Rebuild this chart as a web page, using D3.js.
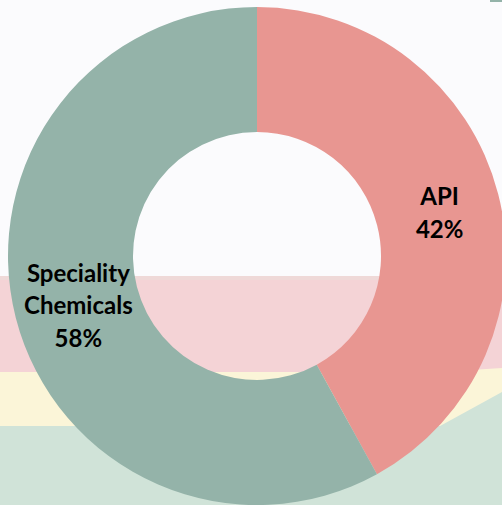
<!DOCTYPE html>
<html>
<head>
<meta charset="utf-8">
<script src="https://cdn.jsdelivr.net/npm/d3@7"></script>
<style>
  html, body { margin: 0; padding: 0; background: #fbfbfd; }
  svg { display: block; }
</style>
</head>
<body>
<svg id="chart" width="502" height="505"></svg>
<script>
const categories = ["API", "Speciality Chemicals"];
const values = [42, 58];
const labelLines = [["API", "42%"], ["Speciality", "Chemicals", "58%"]];
const colors = ["#e89691", "#94b3a9"];

const W = 502, H = 505;
const svg = d3.select("#chart");

// faded background photo bands
const bg = svg.append("g");
bg.append("rect").attr("x", 0).attr("y", 0).attr("width", W).attr("height", H).attr("fill", "#fbfbfd");
bg.append("rect").attr("x", 0).attr("y", 276).attr("width", W).attr("height", 98).attr("fill", "#f4d3d6");
bg.append("rect").attr("x", 0).attr("y", 276).attr("width", W).attr("height", 4).attr("fill", "#efd9d8");
bg.append("path").attr("d", `M0,372 L440,372 L502,368 L502,${H} L0,${H} Z`).attr("fill", "#fbf5d8");
bg.append("path").attr("d", `M0,426 L440,426 L502,392 L502,${H} L0,${H} Z`).attr("fill", "#d0e3d8");
bg.append("rect").attr("x", 490).attr("y", 0).attr("width", 12).attr("height", 2).attr("fill", "#94b3a9");

const cx = 257, cy = 256, R = 249, r = 124;
const g = svg.append("g").attr("transform", `translate(${cx},${cy})`);

const pie = d3.pie().sort(null).value(d => d.value);
const data = pie(categories.map((c, i) => ({ name: c, value: values[i], lines: labelLines[i], color: colors[i] })));
const arc = d3.arc().innerRadius(r).outerRadius(R);
const labelArc = d3.arc().innerRadius(r).outerRadius(R);

g.selectAll("path.slice").data(data).join("path")
  .attr("class", "slice")
  .attr("d", arc)
  .attr("fill", d => d.data.color);

const lineH = 32.5;
g.selectAll("text.lbl").data(data).join("text")
  .attr("class", "lbl")
  .attr("text-anchor", "middle")
  .attr("font-family", "Lato, 'Open Sans', sans-serif")
  .attr("font-weight", "bold")
  .attr("font-size", "24px")
  .attr("fill", "#000")
  .each(function(d) {
    const [x, y] = labelArc.centroid(d);
    const n = d.data.lines.length;
    const t = d3.select(this);
    d.data.lines.forEach((ln, i) => {
      t.append("tspan")
        .attr("x", x + 2)
        .attr("y", y + (i - (n - 1) / 2) * lineH + 12)
        .text(ln);
    });
  });
</script>
</body>
</html>
